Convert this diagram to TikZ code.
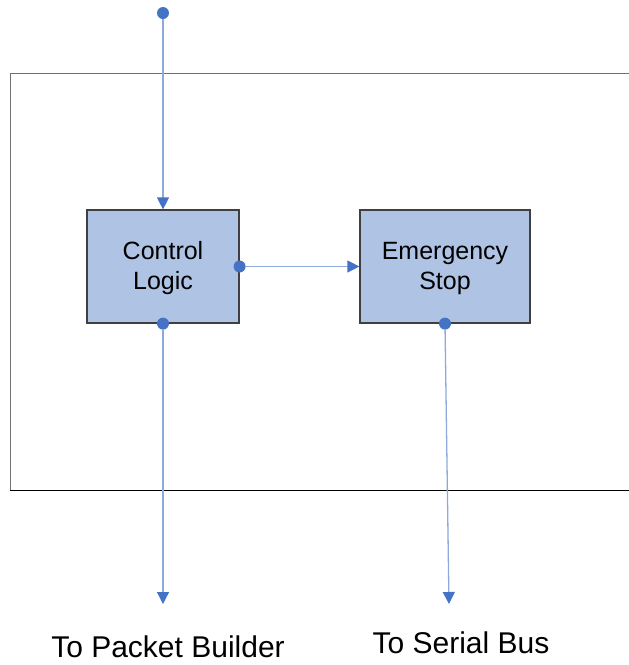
\documentclass[tikz,border=0pt]{standalone}
\usepackage{fontspec}
\setmainfont{Liberation Sans}
\usetikzlibrary{arrows.meta}
\definecolor{boxfill}{HTML}{AFC3E4}
\definecolor{boxline}{HTML}{404040}
\definecolor{wire}{HTML}{8EAADB}
\definecolor{dotc}{HTML}{4472C4}
\definecolor{framec}{HTML}{707070}
\begin{document}
\begin{tikzpicture}[x=1pt,y=-1pt,
  blk/.style={draw=boxline, line width=1.2pt, fill=boxfill, minimum height=113pt,
    align=center, font=\fontsize{25}{30}\selectfont, inner sep=0pt},
  port/.style={circle, fill=dotc, inner sep=0pt, minimum size=12pt},
  wireline/.style={draw=wire, line width=1.3pt, -{Triangle[length=12pt,width=12pt,color=dotc]}},
  lbl/.style={font=\fontsize{30}{34}\selectfont, inner sep=0pt}]
\useasboundingbox (0,0) rectangle (629,665);
% frame (open on the right)
\draw[framec, line width=1pt] (629,73) -- (10,73) -- (10,490);
\draw[black, line width=1pt] (10,490) -- (629,490);
% blocks
\node[blk, minimum width=152pt] (cl) at (163,266.5) {};
\node[blk, minimum width=170pt] (es) at (445,266.5) {};
\node[align=center, font=\fontsize{25}{30}\selectfont, inner sep=0pt] (clt) at ([yshift=-1.5pt]cl.center) {Control\\Logic};
\node[align=center, font=\fontsize{25}{30}\selectfont, inner sep=0pt] (est) at ([yshift=-1.5pt]es.center) {Emergency\\Stop};
% ports
\node[port] (ptop) at (163,13) {};
\node[port] (pcle) at (cl.east) {};
\node[port] (pcls) at (cl.south) {};
\node[port] (pess) at (es.south) {};
% free ends
\coordinate (endpb) at (163,604);
\coordinate (endsb) at (449,604);
% connectors
\draw[wireline] (ptop) -- (cl.north);
\draw[wireline] (pcle) -- (es.west);
\draw[wireline] (pcls) -- (endpb);
\draw[wireline] (pess) -- (endsb);
% labels
\node[lbl, anchor=base] (lpb) at (168,657) {To Packet Builder};
\node[lbl, anchor=base] (lsb) at (461,653) {To Serial Bus};
\end{tikzpicture}
\end{document}
